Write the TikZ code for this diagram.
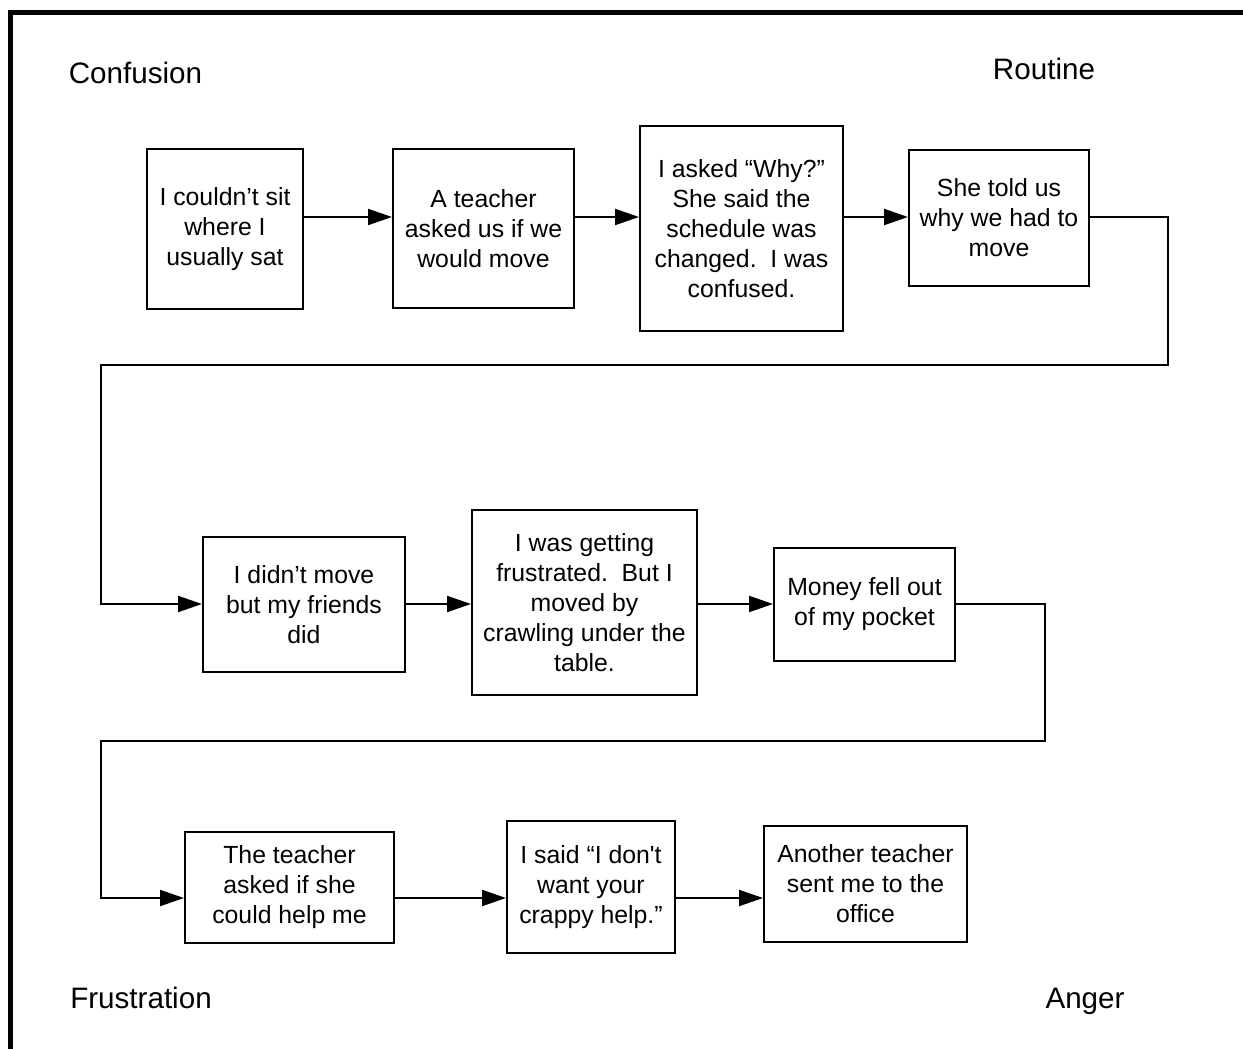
\documentclass[tikz,border=0pt]{standalone}
\usepackage{fontspec}
\setmainfont{Liberation Sans}
\usetikzlibrary{arrows.meta}
\begin{document}
\begin{tikzpicture}[x=1pt,y=-1pt,
  stepbox/.style={draw, line width=2pt, align=center, inner sep=0pt,
    font=\fontsize{24.8}{30}\selectfont},
  phase/.style={inner sep=0pt, text height=0.716em, text depth=0pt,
    font=\fontsize{29.6}{34}\selectfont},
  arr/.style={line width=2pt, -{Triangle[length=24pt,width=16pt]}}]
\useasboundingbox (0,0) rectangle (1243,1049);
% frame on the top and left edges
\draw[line width=5.5pt] (10.5,1049) -- (10.5,12.5) -- (1243,12.5);

% phase labels
\node[phase] (confusion)   at (135.5,80)  {Confusion};
\node[phase] (routine)     at (1044,76)   {Routine};
\node[phase] (frustration) at (141,1005)  {Frustration};
\node[phase] (anger)       at (1085,1005) {Anger};

% first row
\node[stepbox, minimum width=156pt, minimum height=160pt] (b1) at (225,229)
  {I couldn’t sit\\where I\\usually sat};
\node[stepbox, minimum width=181pt, minimum height=159pt] (b2) at (483.5,228.5)
  {A teacher\\asked us if we\\would move};
\node[stepbox, minimum width=203pt, minimum height=205pt] (b3) at (741.5,228.5)
  {I asked “Why?”\\She said the\\schedule was\\changed.\ \ I was\\confused.};
\node[stepbox, minimum width=180pt, minimum height=136pt] (b4) at (999,218)
  {She told us\\why we had to\\move};

% second row
\node[stepbox, minimum width=202pt, minimum height=135pt] (b5) at (304,604.5)
  {I didn’t move\\but my friends\\did};
\node[stepbox, minimum width=225pt, minimum height=185pt] (b6) at (584.5,602.5)
  {I was getting\\frustrated.\ \ But I\\moved by\\crawling under the\\table.};
\node[stepbox, minimum width=181pt, minimum height=113pt] (b7) at (864.5,604.5)
  {Money fell out\\of my pocket};

% third row
\node[stepbox, minimum width=209pt, minimum height=111pt] (b8) at (289.5,887.5)
  {The teacher\\asked if she\\could help me};
\node[stepbox, minimum width=168pt, minimum height=132pt] (b9) at (591,887)
  {I said “I don\textquotesingle t\\want your\\crappy help.”};
\node[stepbox, minimum width=203pt, minimum height=116pt] (b10) at (865.5,884)
  {Another teacher\\sent me to the\\office};

% connector heights and turning points
\coordinate (row1) at (0,217);
\coordinate (row2) at (0,604);
\coordinate (row3) at (0,898);
\coordinate (t1) at (1168,365);
\coordinate (t2) at (101,365);
\coordinate (t3) at (1045,741);
\coordinate (t4) at (101,741);

% connectors
\draw[arr] (b1.east |- row1) -- (b2.west |- row1);
\draw[arr] (b2.east |- row1) -- (b3.west |- row1);
\draw[arr] (b3.east |- row1) -- (b4.west |- row1);
\draw[arr] (b4.east |- row1) -| (t1) -- (t2) |- (b5.west |- row2);
\draw[arr] (b5.east |- row2) -- (b6.west |- row2);
\draw[arr] (b6.east |- row2) -- (b7.west |- row2);
\draw[arr] (b7.east |- row2) -| (t3) -- (t4) |- (b8.west |- row3);
\draw[arr] (b8.east |- row3) -- (b9.west |- row3);
\draw[arr] (b9.east |- row3) -- (b10.west |- row3);
\end{tikzpicture}
\end{document}
